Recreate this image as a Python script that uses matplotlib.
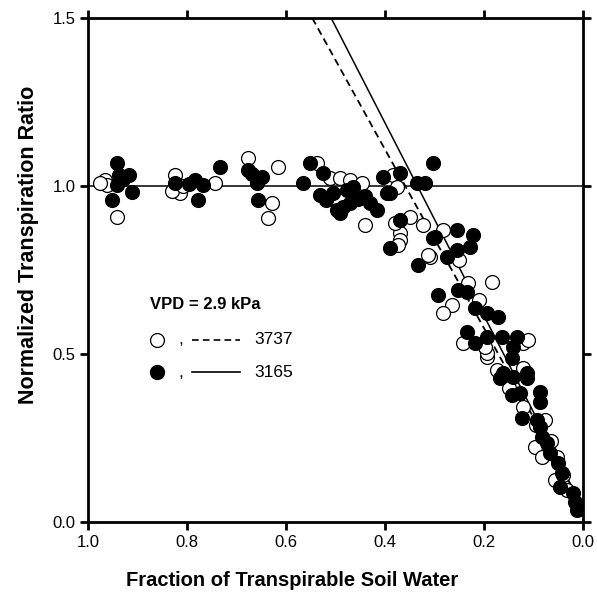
import numpy as np
import matplotlib.pyplot as plt

# open circles: line 3737
open_x = [0.966, 0.962, 0.942, 0.975,
          0.824, 0.814, 0.743, 0.830, 0.808,
          0.677, 0.616, 0.628, 0.636,
          0.537, 0.511, 0.491, 0.471, 0.446, 0.440, 0.384, 0.376, 0.349,
          0.370, 0.370, 0.323, 0.283, 0.309, 0.380, 0.374, 0.313,
          0.184, 0.232, 0.265, 0.283, 0.242, 0.194, 0.174, 0.121, 0.194,
          0.198, 0.121, 0.121, 0.077, 0.097, 0.083, 0.053, 0.057, 0.032,
          0.111, 0.150, 0.095, 0.065, 0.040, 0.250, 0.210]
open_y = [1.019, 1.003, 0.909, 1.010,
          1.033, 0.979, 1.009, 0.985, 1.000,
          1.083, 1.057, 0.949, 0.905,
          1.068, 1.024, 1.024, 1.018, 1.009, 0.884, 1.033, 0.997, 0.908,
          0.860, 0.839, 0.884, 0.869, 0.789, 0.890, 0.824, 0.795,
          0.714, 0.711, 0.646, 0.622, 0.533, 0.491, 0.452, 0.533, 0.503,
          0.521, 0.458, 0.342, 0.304, 0.223, 0.193, 0.193, 0.125, 0.095,
          0.542, 0.400, 0.290, 0.240, 0.140, 0.780, 0.660]

# filled circles: line 3165
fill_x = [0.942, 0.917, 0.937, 0.952, 0.912, 0.942, 0.930,
          0.824, 0.784, 0.768, 0.778, 0.733, 0.795,
          0.677, 0.649, 0.659, 0.657, 0.668,
          0.552, 0.525, 0.566, 0.531, 0.505, 0.477, 0.465, 0.497, 0.471,
          0.485, 0.491, 0.520, 0.455, 0.440, 0.430, 0.404, 0.396, 0.416,
          0.370, 0.335, 0.319, 0.303, 0.370, 0.390, 0.333, 0.299, 0.255,
          0.390,
          0.303, 0.293, 0.222, 0.228, 0.255, 0.275, 0.253, 0.234, 0.218,
          0.194, 0.172, 0.234, 0.218, 0.164, 0.133, 0.141, 0.162, 0.113,
          0.194, 0.143, 0.168, 0.141, 0.113, 0.143, 0.127, 0.087, 0.087,
          0.123, 0.093, 0.087, 0.083, 0.073, 0.067, 0.051, 0.042, 0.046,
          0.020, 0.016, 0.012]
fill_y = [1.068, 1.034, 1.034, 0.958, 0.983, 1.003, 1.020,
          1.009, 1.018, 1.003, 0.958, 1.057, 1.005,
          1.048, 1.027, 1.009, 0.958, 1.035,
          1.068, 1.039, 1.009, 0.973, 0.979, 0.988, 0.997, 0.929, 0.949,
          0.938, 0.920, 0.958, 0.960, 0.970, 0.950, 1.027, 0.979, 0.929,
          1.039, 1.009, 1.009, 1.068, 0.899, 0.815, 0.765, 0.848, 0.869,
          0.979,
          0.845, 0.676, 0.854, 0.818, 0.810, 0.789, 0.690, 0.685, 0.637,
          0.622, 0.610, 0.565, 0.533, 0.551, 0.551, 0.521, 0.443, 0.443,
          0.551, 0.488, 0.429, 0.432, 0.429, 0.378, 0.384, 0.387, 0.357,
          0.310, 0.304, 0.283, 0.253, 0.235, 0.205, 0.176, 0.146, 0.104,
          0.086, 0.060, 0.036]

# regression lines (intercept, slope) and plateau
dash_fit = (0.045, 2.66)
solid_fit = (0.040, 2.87)
plateau = 1.0

FONT = "Liberation Sans"
MS = 10

fig = plt.figure(figsize=(5.97, 5.97), dpi=100)
ax = fig.add_axes([0.1474, 0.1256, 0.8291, 0.8442])

ax.axhline(plateau, color="black", lw=1.1, zorder=1)

xl = np.linspace(0, 1, 200)
ax.plot(xl, dash_fit[0] + dash_fit[1] * xl, color="black", lw=1.3,
        ls=(0, (4, 2.5)), zorder=1)
ax.plot(xl, solid_fit[0] + solid_fit[1] * xl, color="black", lw=1.1, zorder=1)

ax.plot(open_x, open_y, ls="", marker="o", markersize=MS, mfc="white",
        mec="black", mew=0.9, zorder=2)
ax.plot(fill_x, fill_y, ls="", marker="o", markersize=MS, mfc="black",
        mec="black", mew=0.9, zorder=3)

ax.set_xlim(1.0, 0.0)
ax.set_ylim(0.0, 1.5)
ax.set_xticks([1.0, 0.8, 0.6, 0.4, 0.2, 0.0])
ax.set_yticks([0.0, 0.5, 1.0, 1.5])

for s in ax.spines.values():
    s.set_linewidth(2.0)
ax.tick_params(direction="out", length=6, width=2, labelsize=12,
               top=True, right=True, pad=3)
for lbl in ax.get_xticklabels() + ax.get_yticklabels():
    lbl.set_family(FONT)

ax.set_xlabel("Fraction of Transpirable Soil Water", fontsize=14.5,
              fontweight="bold", family=FONT)
ax.xaxis.set_label_coords(0.412, -0.097)
ax.set_ylabel("Normalized Transpiration Ratio", fontsize=15.5,
              fontweight="bold", family=FONT)
ax.yaxis.set_label_coords(-0.100, 0.55)

# hand-drawn key, as in the figure
tr = ax.transAxes
ax.text(0.125, 0.646 / 1.5, "VPD = 2.9 kPa", transform=tr, fontsize=12,
        fontweight="bold", family=FONT, va="center")
ax.plot([0.139], [0.542 / 1.5], transform=tr, marker="o", markersize=MS,
        mfc="white", mec="black", mew=0.9, clip_on=False)
ax.plot([0.139], [0.446 / 1.5], transform=tr, marker="o", markersize=MS,
        mfc="black", mec="black", clip_on=False)
for yy in (0.542, 0.446):
    ax.text(0.182, yy / 1.5, ",", transform=tr, fontsize=12.5,
            family=FONT, va="center")
ax.plot([0.210, 0.307], [0.542 / 1.5] * 2, transform=tr, color="black",
        lw=1.2, ls=(0, (4, 2.5)))
ax.plot([0.210, 0.307], [0.446 / 1.5] * 2, transform=tr, color="black",
        lw=1.2)
ax.text(0.337, 0.542 / 1.5, "3737", transform=tr, fontsize=12.5,
        family=FONT, va="center")
ax.text(0.337, 0.446 / 1.5, "3165", transform=tr, fontsize=12.5,
        family=FONT, va="center")

fig.savefig("out.png", dpi=100)
